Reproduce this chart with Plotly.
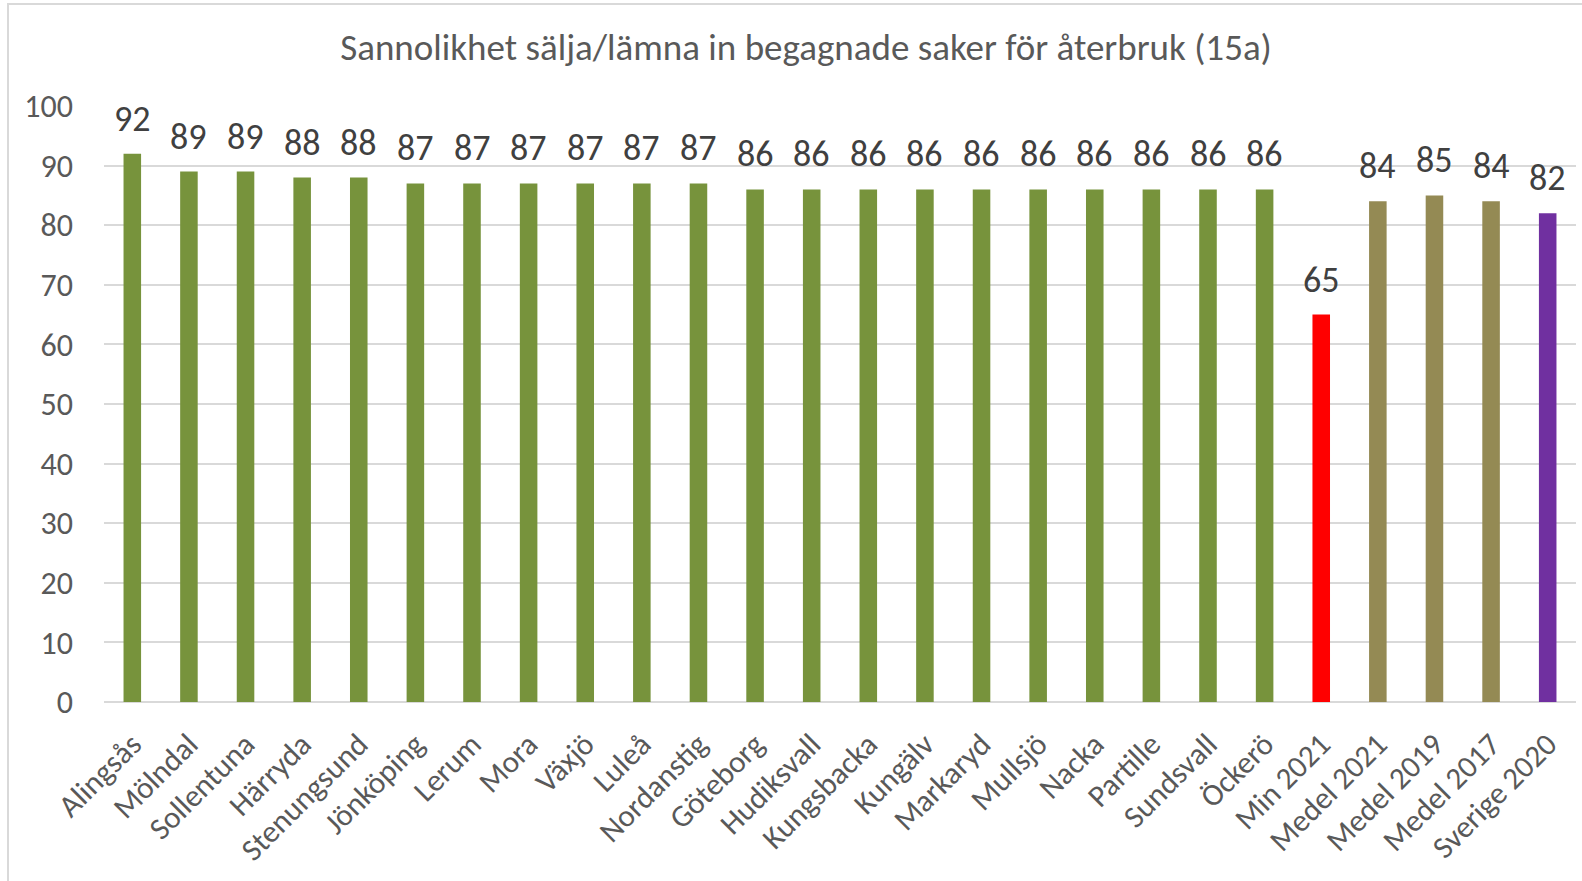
import plotly.graph_objects as go

categories = ["Alingsås", "Mölndal", "Sollentuna", "Härryda", "Stenungsund", "Jönköping",
              "Lerum", "Mora", "Växjö", "Luleå", "Nordanstig", "Göteborg", "Hudiksvall",
              "Kungsbacka", "Kungälv", "Markaryd", "Mullsjö", "Nacka", "Partille",
              "Sundsvall", "Öckerö", "Min 2021", "Medel 2021", "Medel 2019", "Medel 2017",
              "Sverige 2020"]
values = [92, 89, 89, 88, 88, 87, 87, 87, 87, 87, 87, 86, 86, 86, 86, 86, 86, 86, 86,
          86, 86, 65, 84, 85, 84, 82]
bar_colors = ["#77933C"] * 21 + ["#FF0000", "#948A54", "#948A54", "#948A54", "#7030A0"]
y_ticks = [0, 10, 20, 30, 40, 50, 60, 70, 80, 90, 100]

FONT = "Carlito, Calibri, Lato"
TXT = "#595959"

fig = go.Figure()
fig.add_trace(go.Bar(
    x=categories, y=values, marker=dict(color=bar_colors, line=dict(width=0)),
    hoverinfo="x+y",
))

for c, v in zip(categories, values):
    fig.add_annotation(x=c, y=v, text=str(v), showarrow=False, yanchor="bottom",
                       yshift=11, font=dict(family=FONT, size=36, color="#404040"))

fig.update_layout(
    width=1582, height=881,
    paper_bgcolor="white", plot_bgcolor="white",
    margin=dict(l=104, r=6, t=106, b=179),
    bargap=0.69,
    showlegend=False,
    title=dict(text="Sannolikhet sälja/lämna in begagnade saker för återbruk (15a)",
               x=806 / 1582, xanchor="center", y=1 - 47 / 881, yanchor="middle",
               font=dict(family=FONT, size=37, color=TXT)),
    font=dict(family=FONT, color=TXT),
    xaxis=dict(tickangle=-45, tickfont=dict(family=FONT, size=31, color=TXT),
               showgrid=False, showline=False, ticks="", ticklen=0,
               ticklabelstandoff=17),
    yaxis=dict(range=[0, 100], tickvals=y_ticks, tickfont=dict(family=FONT, size=32, color=TXT),
               showgrid=True, gridcolor="#D9D9D9", gridwidth=1.5,
               zeroline=True, zerolinecolor="#D9D9D9", zerolinewidth=1.5,
               showline=False, ticks="", ticklabelstandoff=30),
    shapes=[dict(type="rect", xref="paper", yref="paper", x0=-96 / 1472, x1=1.1,
                 y0=-0.4, y1=(881 - 4 - 179) / 596, line=dict(color="#D9D9D9", width=2),
                 fillcolor="rgba(0,0,0,0)", layer="below")],
)

fig.write_html("out.html", config={"displayModeBar": False},
               post_script="document.body.style.margin='0';")
